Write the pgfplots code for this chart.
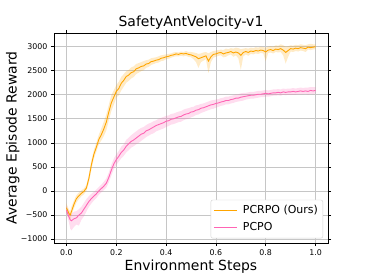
\documentclass[border=0pt]{standalone}
\usepackage{fontspec}
\setmainfont{DejaVu Sans}
\usepackage{pgfplots}
\usepackage{pgfplotstable}
\pgfplotsset{compat=1.18}
\usepgfplotslibrary{fillbetween}
\definecolor{mplorange}{RGB}{255,165,0}
\definecolor{mplpink}{RGB}{255,100,180}

\pgfplotstableread{
x m lo hi
0.00 -350 -440 -260
0.01 -470 -560 -390
0.015 -500 -600 -420
0.02 -430 -520 -330
0.03 -280 -360 -200
0.04 -160 -240 -90
0.05 -100 -170 -30
0.06 -50 -110 10
0.07 -10 -70 50
0.08 60 0 120
0.09 260 170 340
0.10 540 440 640
0.11 760 670 850
0.12 910 820 1000
0.13 1070 970 1170
0.14 1170 1050 1300
0.15 1290 1140 1440
0.16 1430 1260 1590
0.17 1640 1470 1790
0.18 1830 1660 1990
0.19 1950 1790 2090
0.20 2070 1940 2200
0.21 2130 1990 2270
0.22 2240 2090 2370
0.23 2300 2170 2430
0.24 2380 2250 2490
0.25 2410 2290 2520
0.26 2460 2340 2570
0.27 2480 2370 2590
0.28 2540 2430 2640
0.29 2560 2460 2660
0.30 2590 2490 2680
0.31 2600 2510 2700
0.32 2640 2560 2720
0.33 2650 2580 2730
0.34 2690 2620 2760
0.35 2700 2640 2770
0.36 2720 2660 2780
0.37 2730 2670 2800
0.38 2760 2700 2820
0.39 2770 2710 2830
0.40 2790 2740 2840
0.41 2800 2750 2850
0.42 2820 2770 2860
0.43 2830 2790 2880
0.44 2850 2800 2890
0.45 2840 2800 2880
0.46 2860 2810 2900
0.47 2850 2800 2890
0.48 2860 2810 2910
0.49 2840 2790 2890
0.50 2830 2780 2890
0.51 2810 2740 2880
0.52 2790 2680 2870
0.53 2750 2560 2850
0.54 2770 2680 2860
0.55 2790 2710 2880
0.56 2810 2740 2890
0.57 2700 2450 2860
0.58 2790 2680 2890
0.59 2840 2770 2910
0.60 2850 2790 2920
0.61 2870 2810 2930
0.62 2880 2820 2940
0.63 2850 2780 2930
0.64 2870 2790 2960
0.65 2880 2820 2950
0.66 2900 2840 2970
0.67 2870 2790 2960
0.68 2890 2820 2980
0.69 2870 2760 2970
0.70 2820 2520 2950
0.71 2880 2800 2960
0.72 2900 2840 2970
0.73 2880 2810 2960
0.74 2910 2850 2980
0.75 2900 2840 2970
0.76 2920 2860 2990
0.77 2910 2850 2980
0.78 2930 2870 3000
0.79 2920 2860 2990
0.80 2890 2700 2980
0.81 2930 2870 3000
0.82 2940 2880 3010
0.83 2920 2860 3000
0.84 2950 2890 3030
0.85 2940 2880 3020
0.86 2960 2890 3050
0.87 2930 2820 3030
0.88 2880 2650 3000
0.89 2920 2790 3010
0.90 2960 2900 3030
0.91 2950 2890 3020
0.92 2970 2910 3040
0.93 2960 2900 3030
0.94 2980 2920 3050
0.95 2970 2910 3040
0.96 2960 2890 3030
0.97 2990 2940 3050
0.98 2980 2930 3060
0.99 2990 2940 3050
1.00 3000 2950 3050
}\pcrpo

\pgfplotstableread{
x m lo hi
0.00 -400 -480 -300
0.01 -540 -650 -440
0.015 -600 -780 -470
0.02 -620 -820 -480
0.03 -580 -750 -430
0.04 -560 -700 -420
0.05 -500 -720 -380
0.06 -460 -600 -330
0.07 -380 -530 -250
0.08 -300 -430 -170
0.09 -220 -330 -110
0.10 -160 -260 -60
0.11 -110 -200 -20
0.12 -60 -150 30
0.13 0 -80 80
0.14 50 -30 130
0.15 100 20 190
0.16 160 70 260
0.17 280 180 380
0.18 430 320 540
0.19 560 450 670
0.20 650 540 760
0.21 720 610 830
0.22 800 680 920
0.23 850 730 970
0.24 930 800 1060
0.25 980 850 1110
0.26 1030 900 1160
0.27 1060 930 1200
0.28 1100 970 1240
0.29 1140 1000 1280
0.30 1180 1040 1310
0.31 1200 1080 1330
0.32 1250 1120 1370
0.33 1270 1150 1400
0.34 1300 1180 1420
0.35 1330 1200 1450
0.36 1360 1240 1470
0.37 1380 1260 1500
0.38 1400 1280 1520
0.39 1420 1300 1540
0.40 1450 1330 1560
0.41 1460 1350 1570
0.42 1490 1380 1600
0.43 1500 1390 1610
0.44 1520 1410 1630
0.45 1540 1430 1650
0.46 1550 1440 1660
0.47 1580 1470 1690
0.48 1600 1490 1710
0.49 1610 1500 1720
0.50 1640 1530 1740
0.51 1650 1550 1750
0.52 1680 1580 1780
0.53 1690 1590 1790
0.54 1720 1620 1810
0.55 1730 1640 1820
0.56 1750 1660 1840
0.57 1770 1680 1860
0.58 1790 1700 1880
0.59 1800 1710 1890
0.60 1820 1730 1900
0.61 1830 1750 1910
0.62 1850 1770 1930
0.63 1860 1780 1940
0.64 1880 1800 1960
0.65 1880 1800 1960
0.66 1900 1820 1980
0.67 1910 1830 1990
0.68 1930 1850 2010
0.69 1930 1860 2010
0.70 1950 1870 2030
0.71 1960 1880 2040
0.72 1970 1900 2040
0.73 1980 1910 2050
0.74 1990 1920 2060
0.75 1990 1920 2060
0.76 2000 1930 2070
0.77 2010 1940 2080
0.78 2010 1950 2080
0.79 2020 1950 2090
0.80 2030 1960 2100
0.81 2020 1960 2090
0.82 2030 1970 2100
0.83 2040 1980 2110
0.84 2040 1980 2110
0.85 2050 1990 2120
0.86 2040 1980 2110
0.87 2060 2000 2130
0.88 2050 1990 2120
0.89 2060 2000 2130
0.90 2060 2000 2130
0.91 2070 2000 2140
0.92 2060 2000 2130
0.93 2070 2010 2140
0.94 2080 2010 2150
0.95 2070 2010 2140
0.96 2080 2020 2150
0.97 2070 2000 2150
0.98 2090 2020 2160
0.99 2080 2010 2160
1.00 2090 2030 2160
}\pcpo

\begin{document}
\begin{tikzpicture}[x=1bp,y=1bp]
\begin{axis}[
  name=ax,
  scale only axis,
  width=274bp, height=210bp,
  xmin=-0.05, xmax=1.05,
  ymin=-1083, ymax=3285,
  xtick={0,0.2,0.4,0.6,0.8,1.0},
  xticklabels={0.0,0.2,0.4,0.6,0.8,1.0},
  ytick={-1000,-500,0,500,1000,1500,2000,2500,3000},
  yticklabels={−1000,−500,0,500,1000,1500,2000,2500,3000},
  tick label style={font=\fontsize{7.9}{9}\selectfont},
  /pgf/number format/assume math mode=true,
  tick align=outside,
  major tick length=3bp,
  tick style={black, line width=0.6bp},
  axis line style={line width=0.7bp},
  grid=major,
  grid style={gray!45, line width=0.7bp},
  legend style={at={(rel axis cs:0.982,0.022)}, anchor=south east,
    font=\fontsize{11}{12}\selectfont, draw=gray!35, rounded corners=2bp,
    inner sep=2.5bp, column sep=3.4bp, row sep=0bp,
    nodes={inner sep=2.5bp, text height=8.6bp, text depth=3bp}},
  legend cell align=left,
  legend image code/.code={\draw[#1, line width=1bp] (0bp,0bp) -- (22.7bp,0bp);},
]
\addplot[name path=oA, draw=none, forget plot] table[x=x, y=hi] {\pcrpo};
\addplot[name path=oB, draw=none, forget plot] table[x=x, y=lo] {\pcrpo};
\addplot[mplorange, fill opacity=0.22, forget plot] fill between[of=oA and oB];
\addplot[name path=pA, draw=none, forget plot] table[x=x, y=hi] {\pcpo};
\addplot[name path=pB, draw=none, forget plot] table[x=x, y=lo] {\pcpo};
\addplot[mplpink, fill opacity=0.22, forget plot] fill between[of=pA and pB];
\addplot[mplorange, line width=0.9bp, mark=none] table[x=x, y=m] {\pcrpo};
\addlegendentry{PCRPO (Ours)}
\addplot[mplpink, line width=0.9bp, mark=none] table[x=x, y=m] {\pcpo};
\addlegendentry{PCPO}
\node[anchor=north east, font=\fontsize{7.9}{9}\selectfont, inner sep=0pt] at (rel axis cs:1,0) [yshift=-16bp] {1e7};
\end{axis}
\node[anchor=base, font=\fontsize{14}{16}\selectfont, inner sep=0pt] at ([yshift=6.3bp]ax.north) {SafetyAntVelocity-v1};
\node[anchor=base, font=\fontsize{14}{16}\selectfont, inner sep=0pt] at ([yshift=-27bp]ax.south) {Environment Steps};
\node[anchor=base, rotate=90, font=\fontsize{14}{16}\selectfont, inner sep=0pt] at ([xshift=-37.3bp]ax.west) {Average Episode Reward};
\path (ax.south west) ++(-54bp,-31bp) rectangle ++(365bp,274bp);
\end{tikzpicture}
\end{document}
